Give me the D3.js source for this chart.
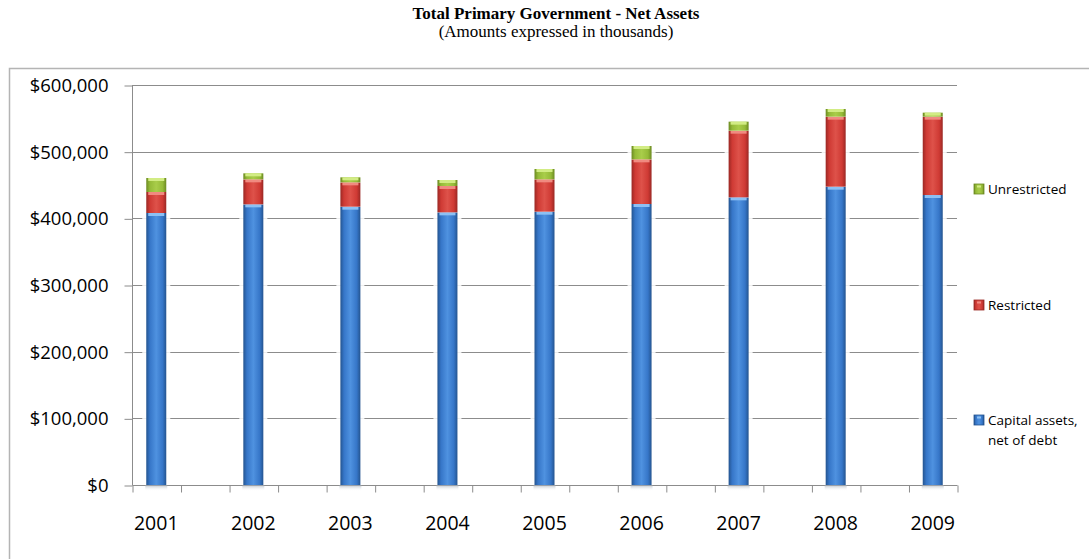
<!DOCTYPE html>
<html>
<head>
<meta charset="utf-8">
<script src="https://cdn.jsdelivr.net/npm/d3@7"></script>
<style>
	body { margin: 0; background: #fff; }
	svg { display: block; }
</style>
</head>
<body>
<svg width="1089" height="559"></svg>
<script>

// values (thousands of dollars)
const years = [ '2001', '2002', '2003', '2004', '2005', '2006', '2007', '2008', '2009' ]
const capital = [ 408000, 421000, 417500, 409000, 410000, 421500, 431500, 447500, 435000 ]
const restricted = [ 31500, 37500, 36500, 39500, 48500, 67000, 100000, 105000, 117500 ]
const unrestricted = [ 21000, 9000, 7500, 9000, 15500, 20000, 13500, 11500, 6000 ]
const yTicks = [ 0, 100000, 200000, 300000, 400000, 500000, 600000 ]
const seriesKeys = [ 'capital', 'restricted', 'unrestricted' ]
const seriesLabels = [ [ 'Capital assets,', 'net of debt' ], [ 'Restricted' ], [ 'Unrestricted' ] ]

const svg = d3.select( 'svg' ),
	width = +svg.attr( 'width' ),
	height = +svg.attr( 'height' ),
	sans = '"Open Sans", Calibri, sans-serif'

const palette = {
	capital: { dark: '#24548f', mid: '#3676c8', light: '#4f92e0', cap: '#8cc0f4' },
	restricted: { dark: '#9a2824', mid: '#cf3a34', light: '#de524a', cap: '#f08a80' },
	unrestricted: { dark: '#6c8a22', mid: '#95bb38', light: '#a9cd4a', cap: '#d2ec84' }
}

const table = years.map( ( y, i ) => ( { year: y, capital: capital[ i ], restricted: restricted[ i ], unrestricted: unrestricted[ i ] } ) )
const stacked = d3.stack().keys( seriesKeys )( table )

// 17 slots, the years sit on every second one
const x = d3.scaleLinear().domain( [ 0, 17 ] ).range( [ 132, 957 ] )
const y = d3.scaleLinear().domain( [ 0, 600000 ] ).range( [ 485, 85 ] )
const barW = 20
const slot = i => 2 * i + 0.5

const defs = svg.append( 'defs' )
seriesKeys.forEach( k => {
	const p = palette[ k ]
	const g = defs.append( 'linearGradient' ).attr( 'id', 'g-' + k ).attr( 'x1', 0 ).attr( 'x2', 1 ).attr( 'y1', 0 ).attr( 'y2', 0 )
	g.append( 'stop' ).attr( 'offset', '0%' ).attr( 'stop-color', p.dark )
	g.append( 'stop' ).attr( 'offset', '18%' ).attr( 'stop-color', p.mid )
	g.append( 'stop' ).attr( 'offset', '50%' ).attr( 'stop-color', p.light )
	g.append( 'stop' ).attr( 'offset', '82%' ).attr( 'stop-color', p.mid )
	g.append( 'stop' ).attr( 'offset', '100%' ).attr( 'stop-color', p.dark )
} )
const sh = defs.append( 'linearGradient' ).attr( 'id', 'shadow' ).attr( 'x1', 0 ).attr( 'x2', 0 ).attr( 'y1', 0 ).attr( 'y2', 1 )
sh.append( 'stop' ).attr( 'offset', '0%' ).attr( 'stop-color', '#9aa4b0' ).attr( 'stop-opacity', 0.7 )
sh.append( 'stop' ).attr( 'offset', '100%' ).attr( 'stop-color', '#fff' ).attr( 'stop-opacity', 0 )

svg.append( 'rect' ).attr( 'width', width ).attr( 'height', height ).attr( 'fill', '#fff' )

// title
svg.append( 'text' )
	.attr( 'x', 556 ).attr( 'y', 19 )
	.attr( 'text-anchor', 'middle' )
	.attr( 'font-family', '"Liberation Serif", "Times New Roman", serif' )
	.attr( 'font-weight', 'bold' ).attr( 'font-size', 17 )
	.text( 'Total Primary Government - Net Assets' )
svg.append( 'text' )
	.attr( 'x', 556 ).attr( 'y', 37 )
	.attr( 'text-anchor', 'middle' )
	.attr( 'font-family', '"Liberation Serif", "Times New Roman", serif' )
	.attr( 'font-size', 17 )
	.text( '(Amounts expressed in thousands)' )

// chart frame (runs off the right and bottom edges)
svg.append( 'path' )
	.attr( 'd', `M9.5,${height + 5}V68.5H${width + 5}` )
	.attr( 'fill', 'none' ).attr( 'stroke', '#b4b4b4' ).attr( 'stroke-width', 1.5 )

// gridlines
svg.append( 'g' )
	.selectAll( 'line' )
	.data( yTicks.filter( d => d > 0 ) )
	.join( 'line' )
	.attr( 'x1', x( 0 ) ).attr( 'x2', x( 17 ) )
	.attr( 'y1', d => Math.round( y( d ) ) + 0.5 ).attr( 'y2', d => Math.round( y( d ) ) + 0.5 )
	.attr( 'stroke', '#8c8c8c' )

// y axis
const yAxis = svg.append( 'g' )
	.attr( 'transform', `translate(${x( 0 ) + 0.5},0.5)` )
	.call( d3.axisLeft( y ).tickValues( yTicks ).tickSize( 8 ).tickPadding( 16 ).tickFormat( d => '$' + d3.format( ',' )( d ) ) )
yAxis.select( '.domain' ).attr( 'd', `M0,${y( 600000 )}V${y( 0 )}` ).attr( 'stroke', '#8c8c8c' )
yAxis.selectAll( '.tick line' ).attr( 'stroke', '#8c8c8c' )
yAxis.selectAll( 'text' ).attr( 'font-family', sans ).attr( 'font-size', 18.5 ).attr( 'fill', '#000' )

// x axis
const xAxis = svg.append( 'g' )
	.attr( 'transform', `translate(0.5,${Math.round( y( 0 ) ) + 0.5})` )
	.call( d3.axisBottom( x ).tickValues( d3.range( 18 ) ).tickSize( 7 ).tickFormat( '' ) )
xAxis.select( '.domain' ).attr( 'd', `M${x( 0 )},0H${x( 17 )}` ).attr( 'stroke', '#8c8c8c' )
xAxis.selectAll( '.tick line' ).attr( 'stroke', '#8c8c8c' )

svg.append( 'g' )
	.selectAll( 'text' )
	.data( years )
	.join( 'text' )
	.attr( 'x', ( d, i ) => x( slot( i ) ) )
	.attr( 'y', 530 )
	.attr( 'text-anchor', 'middle' )
	.attr( 'font-family', sans ).attr( 'font-size', 19.5 )
	.text( d => d )

// bars
const bars = svg.append( 'g' )

bars.selectAll( '.shadow' )
	.data( years )
	.join( 'rect' )
	.attr( 'class', 'shadow' )
	.attr( 'x', ( d, i ) => x( slot( i ) ) - barW / 2 - 1 )
	.attr( 'y', y( 0 ) )
	.attr( 'width', barW + 2 ).attr( 'height', 6 )
	.attr( 'fill', 'url(#shadow)' )

const layer = bars.selectAll( '.layer' )
	.data( stacked )
	.join( 'g' )
	.attr( 'class', 'layer' )

layer.selectAll( '.halo' )
	.data( d => d )
	.join( 'rect' )
	.attr( 'class', 'halo' )
	.attr( 'x', ( d, i ) => x( slot( i ) ) - barW / 2 - 4 )
	.attr( 'y', d => y( d[ 1 ] ) )
	.attr( 'width', barW + 8 )
	.attr( 'height', d => y( d[ 0 ] ) - y( d[ 1 ] ) )
	.attr( 'fill', '#fff' ).attr( 'opacity', 0.85 )

layer.selectAll( '.seg' )
	.data( d => d.map( v => Object.assign( v, { key: d.key } ) ) )
	.join( 'rect' )
	.attr( 'class', 'seg' )
	.attr( 'x', ( d, i ) => x( slot( i ) ) - barW / 2 )
	.attr( 'y', d => y( d[ 1 ] ) )
	.attr( 'width', barW )
	.attr( 'height', d => y( d[ 0 ] ) - y( d[ 1 ] ) )
	.attr( 'fill', d => `url(#g-${d.key})` )

layer.selectAll( '.cap' )
	.data( d => d )
	.join( 'rect' )
	.attr( 'class', 'cap' )
	.attr( 'x', ( d, i ) => x( slot( i ) ) - barW / 2 + 2 )
	.attr( 'y', d => y( d[ 1 ] ) )
	.attr( 'width', barW - 4 )
	.attr( 'height', d => Math.min( 3, y( d[ 0 ] ) - y( d[ 1 ] ) ) )
	.attr( 'fill', d => palette[ d.key ].cap )

// legend
const legendY = [ 420, 305, 189 ]
const legend = svg.append( 'g' )
	.selectAll( 'g' )
	.data( seriesKeys )
	.join( 'g' )
	.attr( 'transform', ( d, i ) => `translate(974,${legendY[ i ]})` )

legend.append( 'rect' )
	.attr( 'x', 0 ).attr( 'y', -5 ).attr( 'width', 10 ).attr( 'height', 10 )
	.attr( 'fill', d => `url(#g-${d})` )
	.attr( 'stroke', d => palette[ d ].dark ).attr( 'stroke-width', 0.8 )
legend.append( 'rect' )
	.attr( 'x', 3 ).attr( 'y', -3.5 ).attr( 'width', 4 ).attr( 'height', 2 )
	.attr( 'fill', d => palette[ d ].cap )

legend.append( 'text' )
	.attr( 'x', 14 ).attr( 'y', 5 )
	.attr( 'font-family', sans ).attr( 'font-size', 13.5 )
	.selectAll( 'tspan' )
	.data( ( d, i ) => seriesLabels[ i ] )
	.join( 'tspan' )
	.attr( 'x', 14 )
	.attr( 'dy', ( d, j ) => j === 0 ? 0 : 20 )
	.text( d => d )

</script>
</body>
</html>
